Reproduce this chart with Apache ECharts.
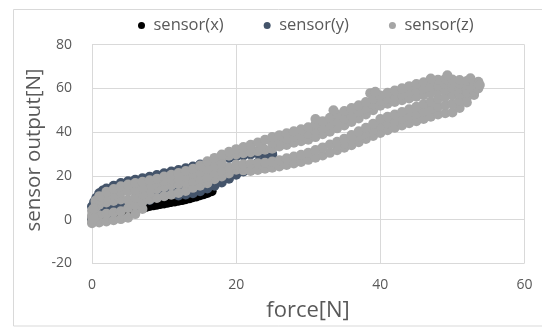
<!DOCTYPE html>
<html>
<head>
<meta charset="utf-8">
<script src="https://cdn.jsdelivr.net/npm/echarts@6/dist/echarts.min.js"></script>
<style>
html,body{margin:0;padding:0;background:#fff;}
#chart{width:542px;height:329px;}
</style>
</head>
<body>
<div id="chart"></div>
<script>
// ---- data ----
var seriesNames = ['sensor(x)', 'sensor(y)', 'sensor(z)'];
var xTicks = [0, 20, 40, 60];
var yTicks = [-20, 0, 20, 40, 60, 80];

// sensor(x) – black
var sensorX = [[0,0.5],[1,1],[2,1.5],[3,2],[4,2.8],[5,3.5],[6,4.5],[7,5.4],[7.5,5.8],[8,6.2],[8.5,6.5],[9,6.8],[9.5,7.1],[10,7.4],[10.5,7.7],[11,8],[11.5,8.3],[12,8.6],[12.5,8.9],[13,9.3],[13.5,9.7],[14,10.2],[14.5,10.6],[15,11.1],[15.5,11.6],[16,12.2],[16.6,13]];

// sensor(y) – dark slate, several strands of the loop
var sensorYTop = [[0,6],[0.3,8],[0.6,10],[1,12],[1.5,13.3],[2,14.2],[3,15.5],[4,16.7],[5,17.5],[6,18.2],[7,18.9],[8,19.6],[9,20.4],[10,21.2],[11,22],[12,22.7],[13,23.5],[14,24.3],[15,25.2],[16,26],[17,26.8],[18,27.5],[19,28.2],[20,28.8],[21,29.3],[22,29.8],[23,30.2],[24,30.5],[25,30]];
var sensorYMid = [[1,4.3],[1.5,4.6],[2,5],[2.5,5.3],[3,5.7],[3.5,6],[4,6.3],[8.5,10.8],[9.5,11.5],[10.5,12.3],[11.5,13],[12.5,13.6],[13,18.5],[14.5,19.8],[16,21],[17.5,22.2]];
var sensorYLow = [[0,0.5],[2,2.5],[4,4.5],[6,6.5],[8,9],[10,10.8],[12,11],[13,11.5],[14,12],[15,13],[16,14.2],[17,15.5],[18,17],[19,18.7],[20,20.5],[21,22],[21.5,23],[22,24],[23,26],[24,28],[25,29.5]];

// sensor(z) – grey, strands of the two bands
var sensorZTop = [[0,4],[0.5,8.7],[1,10.7],[2,12.7],[3,14],[4,15.2],[5,16],[6,16.7],[7,17.3],[8,18],[9,18.7],[10,19.7],[11,20.5],[12,21.3],[13,22.2],[14,23.2],[15,24.7],[16,26.7],[17,28.2],[18,29.7],[19,31],[20,32.2],[21,33.2],[22,34.2],[23,35.2],[24,36.5],[25,37.7],[26,38.6],[27,39.5],[28,40.4],[29,41.3],[30,42.2],[31,43.6],[32,45],[33,46.5],[34,48],[35,49.6],[36,51],[37,52.3],[38,53.7],[39,55.2],[40,56.7],[41,58],[42,59],[43,60],[44,61],[45,62],[46,62.8],[47,63.4],[48,63.9],[49,64.2],[50,64],[51,63.8],[52,63.3],[53,62.5]];
var sensorZUpperMid = [[22,32.5],[23.5,33.8],[25,35],[26,36],[27,36.8],[28,37.7],[29,38.5],[30,39.3],[31,40.6],[32,42],[33,43.3],[34,44.8],[35,46.3],[36,47.8],[37,49.2],[38,50.8],[39,52.6],[40,54.3],[41,55.5],[42,56.4],[43,57.3],[44,58.2],[45,59.1],[46,59.9],[47,60.7],[48,61.3],[49,62],[50,62],[51,62],[52,61.5],[53,60.8]];
var sensorZUpperLow = [[18,28.6],[19,29.2],[20,29.8],[21,30.3],[22,30.8],[23,31.3],[24,31.9],[25,32.4],[26,33.4],[27,34.1],[28,35.1],[29,35.8],[30,36.5],[31,37.7],[32,39],[33,40.2],[34,41.7],[35,43],[36,44.6],[37,46.2],[38,48],[39,50],[40,52],[41,53],[42,53.8],[43,54.6],[44,55.4],[45,56.2],[46,57],[47,58],[48,58.8],[49,59.5],[50,60],[51,60],[52,59.5],[53,59]];
var sensorZLowerTop = [[20,25.2],[21,25.3],[22,25.5],[23,25.7],[24,26],[25,26.5],[26,27.1],[27,28],[28,28.8],[29,29.6],[30,30.5],[31,31.8],[32,33],[33,34.3],[34,35.6],[35,37],[36,38.7],[37,40.4],[38,42],[39,43.8],[40,46],[41,47],[42,48],[43,49.2],[44,50.4],[45,51.6],[46,52.8],[47,54],[48,55.2],[49,56],[50,56.8],[51,57.5],[52,58],[53,58.5]];
var sensorZLowerMid = [[34,33.6],[35,34.9],[36,36.3],[37,37.9],[38,39.4],[39,41],[40,42.8],[41,44],[42,45],[43,46.1],[44,47.2],[45,48.3],[46,49.4],[47,50.5],[48,51.6],[49,52.3],[50,53],[51,54.2],[52,55.8],[53,57.8]];
var sensorZBottom = [[0,-1.7],[1,-1.3],[2,-0.9],[3,-0.3],[4,0.2],[5,0.8],[6,2.5],[7,4.8],[8,9.2],[9,9.9],[10,10.7],[11,11.4],[12,12.2],[13,13.1],[14,14.5],[15,15.5],[16,16.6],[17,18.4],[18,19.7],[19,21.1],[20,22.8],[21,22.5],[22,22.2],[23,22.7],[24,23.2],[25,23.7],[26,24.3],[27,25],[28,25.6],[29,26.3],[30,27.3],[31,28.3],[32,29.3],[33,30.5],[34,31.7],[35,32.8],[36,34],[37,35.4],[38,36.8],[39,38.2],[40,39.6],[41,40.8],[42,42],[43,43],[44,44],[45,45],[46,46],[47,47],[48,48],[49,48.6],[50,49],[51,51],[52,53.5],[53,57]];
var sensorZFillA = [[0,1.2],[1,2],[2,2.7],[3,3.2],[4,3.8],[5,5.2],[6,6.5],[7,8],[8,12.2],[9,14],[10,14.8],[11,15.6],[12,16.3],[13,16.8],[14,17.5],[15,18.4],[16,19.6],[17,21.5],[18,22.6],[19,23.8]];
var sensorZFillB = [[0.5,5.5],[1,6.8],[2,7.8],[3,8.5],[4,9.2],[5,9],[6,10],[7,11.5],[8,15],[9,17],[10,17.6],[11,18.3],[12,19],[13,19.8],[14,20.8],[15,21.8],[16,23.2],[17,24.6],[18,25.8]];
var sensorZFillC = [[0.5,8],[1,9],[2,10.5],[3,11.5],[4,12.3],[5,12.8],[6,13.5],[7,14.3]];
var sensorZExtra = [[0,-1],[0,2],[0.3,0.5],[0.2,5],[53.6,60],[53.6,63],[53.8,61.5],[31,46],[33.5,50],[38.6,57.8],[39.3,58.4],[47,64.5],[49.3,66],[52.5,64.6]];

var colors = ['#000000', '#44546A', '#A5A5A5'];

var chart = echarts.init(document.getElementById('chart'), null, {renderer: 'canvas'});
var txt = '#595959';
var font = '"Open Sans", sans-serif';
var dot = 10;
var option = {
  animation: false,
  backgroundColor: '#ffffff',
  color: colors,
  textStyle: {fontFamily: font},
  legend: {
    data: seriesNames,
    top: 12,
    left: 133,
    itemWidth: 14,
    itemHeight: 7,
    itemGap: 40,
    icon: 'circle',
    textStyle: {color: txt, fontSize: 16.5, fontFamily: font}
  },
  grid: {left: 92, right: 17.5, top: 44.6, bottom: 65.7, containLabel: false},
  xAxis: {
    type: 'value', min: xTicks[0], max: xTicks[xTicks.length - 1], interval: 20,
    axisLine: {show: false}, axisTick: {show: false},
    axisLabel: {color: txt, fontSize: 14, margin: 15, fontFamily: font},
    splitLine: {show: true, lineStyle: {color: '#D9D9D9', width: 1}}
  },
  yAxis: {
    type: 'value', min: yTicks[0], max: yTicks[yTicks.length - 1], interval: 20,
    axisLine: {show: false}, axisTick: {show: false},
    axisLabel: {color: txt, fontSize: 14, margin: 20, fontFamily: font},
    splitLine: {show: true, lineStyle: {color: '#D9D9D9', width: 1}}
  },
  graphic: [
    {type: 'rect', silent: true, shape: {x: 13.5, y: 9.5, width: 560, height: 316.5},
     style: {fill: 'none', stroke: '#D9D9D9', lineWidth: 1}},
    {type: 'text', x: 34, y: 150, rotation: Math.PI / 2,
     style: {text: 'sensor output[N]', fill: txt, font: '20.5px ' + font, textAlign: 'center', textVerticalAlign: 'middle'}},
    {type: 'text', x: 308, y: 311,
     style: {text: 'force[N]', fill: txt, font: '22px ' + font, textAlign: 'center', textVerticalAlign: 'middle'}}
  ],
  series: [
    {name: seriesNames[0], type: 'scatter', symbol: 'circle', symbolSize: dot, data: sensorX,
     itemStyle: {color: colors[0], opacity: 1}},
    {name: seriesNames[1], type: 'scatter', symbol: 'circle', symbolSize: dot,
     data: sensorYLow.concat(sensorYMid, sensorYTop), itemStyle: {color: colors[1], opacity: 1}},
    {name: seriesNames[2], type: 'scatter', symbol: 'circle', symbolSize: dot,
     data: sensorZBottom.concat(sensorZFillA, sensorZFillB, sensorZFillC, sensorZLowerMid, sensorZLowerTop, sensorZUpperLow, sensorZUpperMid, sensorZTop, sensorZExtra),
     itemStyle: {color: colors[2], opacity: 1}}
  ]
};
chart.setOption(option);
</script>
</body>
</html>
